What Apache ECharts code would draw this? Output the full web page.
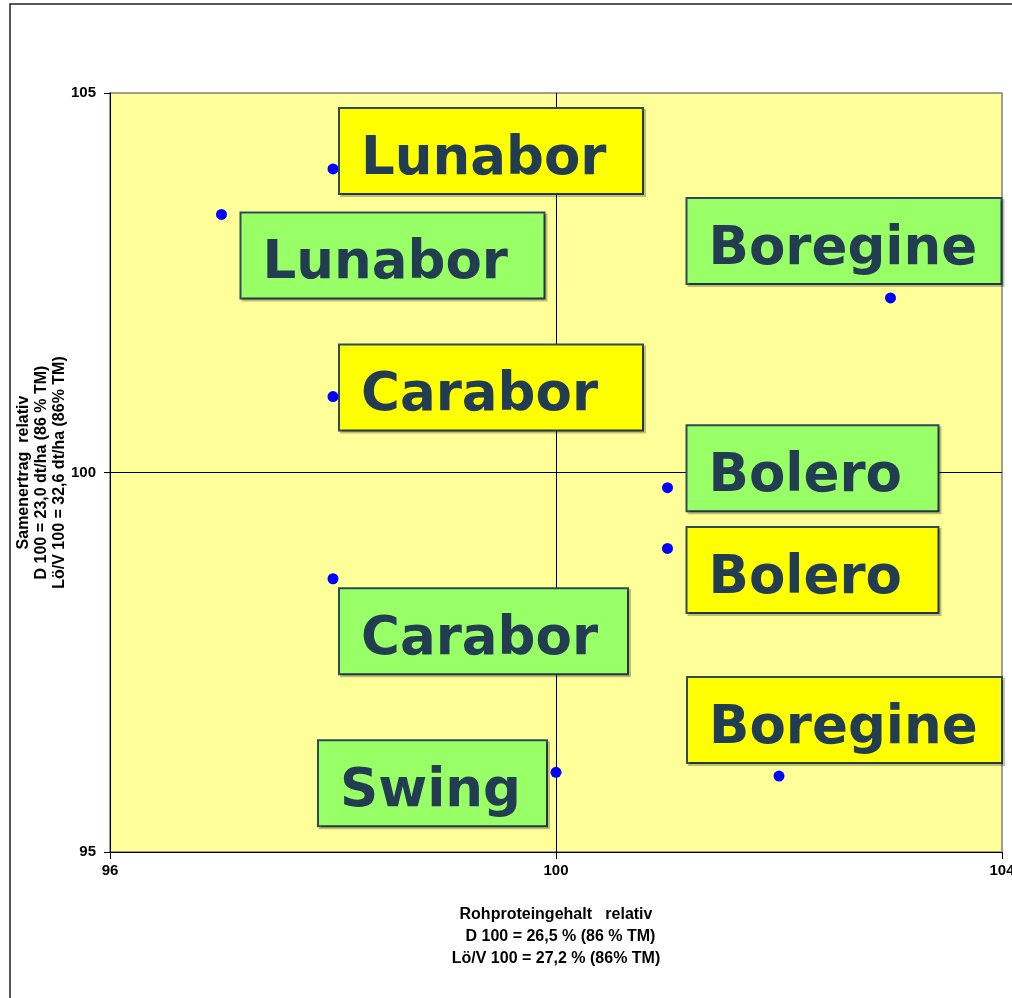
<!DOCTYPE html>
<html>
<head>
<meta charset="utf-8">
<script src="https://cdn.jsdelivr.net/npm/echarts@6/dist/echarts.min.js"></script>
<style>
  html, body { margin: 0; padding: 0; background: #fff; }
  #chart { width: 1012px; height: 998px; }
</style>
</head>
<body>
<div id="chart"></div>
<script>
// x = Rohproteingehalt relativ, y = Samenertrag relativ
const xTicks = [96, 100, 104]
const yTicks = [95, 100, 105]

// yellow labelled group
const dNames = ['Lunabor', 'Carabor', 'Bolero', 'Boregine']
const dX = [98, 98, 101, 102]
const dY = [104.0, 101.0, 99.0, 96.0]

// green labelled group
const lvNames = ['Lunabor', 'Boregine', 'Bolero', 'Carabor', 'Swing']
const lvX = [97, 103, 101, 98, 100]
const lvY = [103.4, 102.3, 99.8, 98.6, 96.05]

// label box placement relative to the point: [dx left edge, dy centre, box width]
const dBoxes = [[7, -18, 302], [7, -9, 302], [20, 21.5, 250], [-91, -56, 313]]
const lvBoxes = [[20, 41, 302], [-203, -57, 313], [20, -19.5, 250], [7, 52.5, 287], [-237, 11, 227]]

const SYM = 11
const BOX_H = 84

function buildData(names, xs, ys, boxes, bg) {
  return names.map(function (n, i) {
    const b = boxes[i]
    return {
      name: n,
      value: [xs[i], ys[i]],
      label: {
        show: true,
        formatter: '{b}',
        position: [b[0] + SYM / 2, b[1] - BOX_H / 2 + SYM / 2],
        align: 'left',
        verticalAlign: 'top',
        backgroundColor: bg,
        borderColor: '#2f4a58',
        borderWidth: 2,
        shadowColor: 'rgba(0,0,0,0.25)',
        shadowOffsetX: 2,
        shadowOffsetY: 2,
        padding: [24, 0, 0, 21],
        width: b[2] - 21,
        height: BOX_H - 24,
        lineHeight: 54,
        overflow: 'none',
        color: '#223d52',
        fontFamily: 'DejaVu Sans',
        fontWeight: 'bold',
        fontSize: 53
      }
    }
  })
}

const chart = echarts.init(document.getElementById('chart'))
const axisFont = { fontFamily: 'Liberation Sans', fontWeight: 'bold', color: '#000' }

chart.setOption({
  backgroundColor: '#fff',
  animation: false,
  graphic: [{
    type: 'rect',
    shape: { x: 10, y: 4, width: 1020, height: 1020 },
    style: { fill: 'none', stroke: '#222', lineWidth: 1.5 },
    silent: true
  }],
  grid: {
    left: 110,
    top: 93,
    right: 10,
    bottom: 146,
    outerBoundsMode: 'none',
    containLabel: false,
    show: true,
    backgroundColor: '#ffff99',
    borderColor: '#808080',
    borderWidth: 1.5
  },
  xAxis: {
    type: 'value',
    min: xTicks[0],
    max: xTicks[xTicks.length - 1],
    interval: 4,
    axisLine: { show: true, onZero: false, lineStyle: { color: '#000', width: 1 } },
    axisTick: { show: true, length: 7, lineStyle: { color: '#000' } },
    axisLabel: Object.assign({ fontSize: 15, margin: 11 }, axisFont),
    splitLine: { show: true, showMinLine: false, showMaxLine: false, lineStyle: { color: '#000', width: 1 } },
    name: 'Rohproteingehalt   relativ\n  D 100 = 26,5 % (86 % TM)\nLö/V 100 = 27,2 % (86% TM)',
    nameLocation: 'middle',
    nameGap: 52,
    nameMoveOverlap: false,
    nameTextStyle: Object.assign({ fontSize: 16, lineHeight: 22, align: 'center' }, axisFont)
  },
  yAxis: {
    type: 'value',
    min: yTicks[0],
    max: yTicks[yTicks.length - 1],
    interval: 5,
    axisLine: { show: true, onZero: false, lineStyle: { color: '#000', width: 1 } },
    axisTick: { show: true, length: 6, lineStyle: { color: '#000' } },
    axisLabel: Object.assign({ fontSize: 15, margin: 14 }, axisFont),
    splitLine: { show: true, showMinLine: false, showMaxLine: false, lineStyle: { color: '#000', width: 1 } },
    name: 'Samenertrag  relativ\nD 100 = 23,0 dt/ha (86 % TM)\nLö/V 100 = 32,6 dt/ha (86% TM)',
    nameLocation: 'middle',
    nameGap: 41,
    nameMoveOverlap: false,
    nameTextStyle: Object.assign({ fontSize: 16, lineHeight: 18, align: 'center' }, axisFont)
  },
  series: [{
    name: 'D',
    type: 'scatter',
    symbol: 'circle',
    symbolSize: SYM,
    itemStyle: { color: '#0000ff', opacity: 1 },
    data: buildData(dNames, dX, dY, dBoxes, '#ffff00')
  }, {
    name: 'Lö/V',
    type: 'scatter',
    symbol: 'circle',
    symbolSize: SYM,
    itemStyle: { color: '#0000ff', opacity: 1 },
    data: buildData(lvNames, lvX, lvY, lvBoxes, '#99ff66')
  }]
})
</script>
</body>
</html>
